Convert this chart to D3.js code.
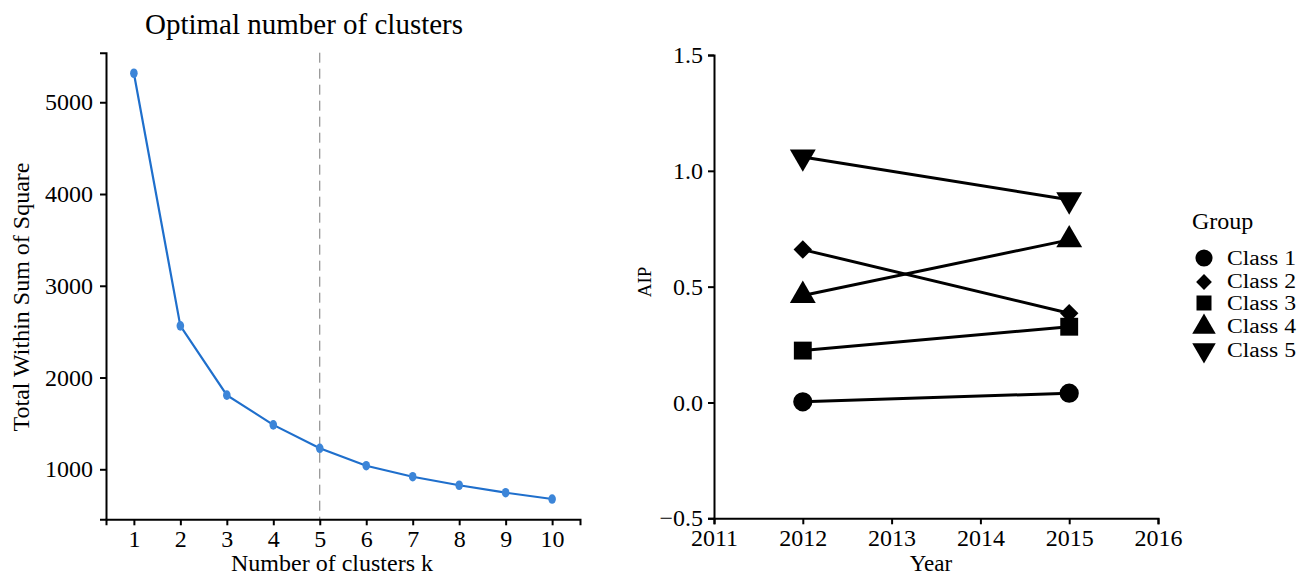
<!DOCTYPE html>
<html>
<head>
<meta charset="utf-8">
<script src="https://cdn.jsdelivr.net/npm/d3@7"></script>
<style>
  html, body { margin: 0; padding: 0; background: #fff; }
</style>
</head>
<body>
<svg id="chart" width="1309" height="577"></svg>
<script>
// ---------- Data ----------
const kValues = [1, 2, 3, 4, 5, 6, 7, 8, 9, 10];
const wss = [5316, 2563, 1808, 1484, 1229, 1039, 919, 826, 745, 676];
const optimalK = 5;
const leftYTicks = [1000, 2000, 3000, 4000, 5000];

const years = [2012, 2015];
const classNames = ["Class 1", "Class 2", "Class 3", "Class 4", "Class 5"];
const class1 = [0.003, 0.040];
const class2 = [0.660, 0.385];
const class3 = [0.224, 0.327];
const class4 = [0.462, 0.702];
const class5 = [1.060, 0.875];
const classValues = [class1, class2, class3, class4, class5];
const rightYTicks = [-0.5, 0.0, 0.5, 1.0, 1.5];
const rightXTicks = [2011, 2012, 2013, 2014, 2015, 2016];

const FONT = "'Liberation Serif', 'Times New Roman', serif";
const svg = d3.select("#chart");

// ---------- Left panel ----------
const xL = d3.scaleLinear().domain([0.4, 10.6]).range([106, 580]);
const yL = d3.scaleLinear().domain([455, 5540]).range([519.3, 52.7]);

svg.append("text").attr("x", 304).attr("y", 34).attr("text-anchor", "middle")
  .style("font-size", "29px").text("Optimal number of clusters");

svg.append("line")
  .attr("x1", xL(optimalK)).attr("x2", xL(optimalK))
  .attr("y1", yL.range()[1]).attr("y2", yL.range()[0])
  .attr("stroke", "#7a7a7a").attr("stroke-width", 1)
  .attr("stroke-dasharray", "10,6");

const line = d3.line().x((d, i) => xL(kValues[i])).y(d => yL(d));
svg.append("path").datum(wss).attr("d", line)
  .attr("fill", "none").attr("stroke", "#1F6FCC").attr("stroke-width", 2.2);
svg.selectAll(".kpt").data(wss).enter().append("ellipse")
  .attr("cx", (d, i) => xL(kValues[i])).attr("cy", d => yL(d))
  .attr("rx", 3.8).attr("ry", 4.8).attr("fill", "#3C85D8");

const gxL = svg.append("g").attr("transform", "translate(0,519.3)")
  .call(d3.axisBottom(xL).tickValues(kValues).tickFormat(d3.format("d")).tickSizeOuter(0).tickSize(6));
const gyL = svg.append("g").attr("transform", "translate(106,0)")
  .call(d3.axisLeft(yL).tickValues(leftYTicks).tickFormat(d3.format("d")).tickSizeOuter(0).tickSize(6));

const gxR_placeholder = null;

function styleAxis(g) {
  g.attr("font-family", null).attr("font-size", null);
  g.select(".domain").attr("stroke", "#000").attr("stroke-width", 2);
  g.selectAll(".tick line").attr("stroke", "#000").attr("stroke-width", 2);
  g.selectAll(".tick text").style("font-size", "24px").attr("fill", "#000");
}
[gxL, gyL].forEach(styleAxis);
gxL.selectAll(".tick text").attr("dy", "0.71em").attr("y", 11);
gyL.selectAll(".tick text").attr("x", -13);

svg.append("text").attr("x", 332).attr("y", 571).attr("text-anchor", "middle")
  .style("font-size", "24px").text("Number of clusters k");
svg.append("text").attr("transform", "translate(29,297) rotate(-90)").attr("text-anchor", "middle")
  .style("font-size", "24px").text("Total Within Sum of Square");

// ---------- Right panel ----------
const xR = d3.scaleLinear().domain([2011, 2016]).range([714, 1158]);
const yR = d3.scaleLinear().domain([-0.5, 1.5]).range([518.3, 55]);

const symbolDefs = [
  { type: d3.symbolCircle, size: 290, rot: 0 },
  { type: d3.symbolSquare, size: 170, rot: 45 },
  { type: d3.symbolSquare, size: 320, rot: 0 },
  { type: d3.symbolTriangle, size: 290, rot: 0 },
  { type: d3.symbolTriangle, size: 290, rot: 180 }
];
const legendSymbolDefs = [
  { type: d3.symbolCircle, size: 230, rot: 0 },
  { type: d3.symbolSquare, size: 125, rot: 45 },
  { type: d3.symbolSquare, size: 225, rot: 0 },
  { type: d3.symbolTriangle, size: 240, rot: 0 },
  { type: d3.symbolTriangle, size: 240, rot: 180 }
];

const lineR = d3.line().x((d, i) => xR(years[i])).y(d => yR(d));
classValues.forEach(vals => {
  svg.append("path").datum(vals).attr("d", lineR)
    .attr("fill", "none").attr("stroke", "#000").attr("stroke-width", 3);
});
classValues.forEach((vals, ci) => {
  const s = symbolDefs[ci];
  svg.selectAll(".pt" + ci).data(vals).enter().append("path")
    .attr("d", d3.symbol().type(s.type).size(s.size)())
    .attr("transform", (d, i) => `translate(${xR(years[i])},${yR(d)}) rotate(${s.rot})`)
    .attr("fill", "#000");
});

const gxR = svg.append("g").attr("transform", "translate(0,518.3)")
  .call(d3.axisBottom(xR).tickValues(rightXTicks).tickFormat(d3.format("d")).tickSizeOuter(0).tickSize(6));
const gyR = svg.append("g").attr("transform", "translate(714,0)")
  .call(d3.axisLeft(yR).tickValues(rightYTicks).tickFormat(d3.format(".1f")).tickSizeOuter(0).tickSize(6));
[gxR, gyR].forEach(styleAxis);
gxR.selectAll(".tick text").attr("dy", "0.71em").attr("y", 11);
gyR.selectAll(".tick text").attr("x", -11);

svg.append("text").attr("x", 931).attr("y", 571).attr("text-anchor", "middle")
  .style("font-size", "23px").text("Year");
svg.append("text").attr("transform", "translate(651,282) rotate(-90)").attr("text-anchor", "middle")
  .style("font-size", "19px").text("AIP");

// ---------- Legend ----------
const legendY = [258, 282, 303, 327, 350];
const legendTextY = [265, 288, 310, 333, 357];
svg.append("text").attr("x", 1192).attr("y", 229).style("font-size", "24px").text("Group");
classNames.forEach((name, ci) => {
  const s = legendSymbolDefs[ci];
  svg.append("path").attr("d", d3.symbol().type(s.type).size(s.size)())
    .attr("transform", `translate(1204,${legendY[ci]}) rotate(${s.rot})`).attr("fill", "#000");
  svg.append("text").attr("x", 1227).attr("y", legendTextY[ci])
    .style("font-size", "20.5px").attr("class", "legtext").text(name);
});

svg.selectAll("text").style("font-family", FONT).attr("fill", "#000");
// widen legend labels slightly to match the reference glyph width
svg.selectAll(".legtext").each(function () {
  this.setAttribute("textLength", 69);
  this.setAttribute("lengthAdjust", "spacingAndGlyphs");
});
</script>
</body>
</html>
